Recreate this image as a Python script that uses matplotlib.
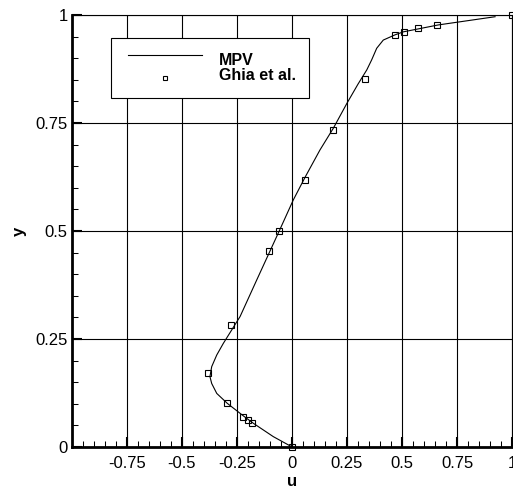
import matplotlib
matplotlib.use("Agg")
import matplotlib.pyplot as plt
from matplotlib.ticker import MultipleLocator, FixedLocator
from matplotlib.patches import Rectangle

plt.rcParams["font.family"] = ["Liberation Sans", "DejaVu Sans"]

# MPV centreline profile
mpv_u = [0.0, -0.01, -0.085, -0.176, -0.221, -0.294, -0.342, -0.365, -0.373,
         -0.365, -0.342, -0.312, -0.274, -0.236, -0.16, -0.059, 0.006, 0.06,
         0.127, 0.188, 0.249, 0.30, 0.34, 0.362, 0.385, 0.415, 0.468, 0.506,
         0.665, 0.923]
mpv_y = [0.0, 0.003, 0.024, 0.055, 0.072, 0.101, 0.124, 0.147, 0.163,
         0.186, 0.213, 0.240, 0.271, 0.302, 0.387, 0.499, 0.572, 0.625,
         0.6875, 0.738, 0.795, 0.840, 0.873, 0.896, 0.923, 0.942, 0.954, 0.961,
         0.977, 0.996]

# Ghia et al. reference points
ghia_y = [1.0, 0.9766, 0.9688, 0.9609, 0.9531, 0.8516, 0.7344, 0.6172, 0.5,
          0.4531, 0.2813, 0.1719, 0.1016, 0.0703, 0.0625, 0.0547, 0.0]
ghia_u = [1.0, 0.65928, 0.57492, 0.51117, 0.46604, 0.33304, 0.18719, 0.05702,
          -0.06080, -0.10648, -0.27805, -0.38289, -0.29730, -0.22220, -0.20196,
          -0.18109, 0.0]

x_ticks = [-0.75, -0.5, -0.25, 0, 0.25, 0.5, 0.75, 1]
x_labels = ["-0.75", "-0.5", "-0.25", "0", "0.25", "0.5", "0.75", "1"]
y_ticks = [0, 0.25, 0.5, 0.75, 1]
y_labels = ["0", "0.25", "0.5", "0.75", "1"]

fig = plt.figure(figsize=(5.13, 4.88), dpi=100)
ax = fig.add_axes([72 / 513, 41 / 488, 440 / 513, 432 / 488])

ax.plot(mpv_u, mpv_y, color="black", lw=0.8, zorder=3)
ax.plot(ghia_u, ghia_y, ls="none", marker="s", ms=5, mfc="none", mec="black",
        mew=0.8, clip_on=False, zorder=4)

ax.set_xlim(-1, 1)
ax.set_ylim(0, 1)
ax.xaxis.set_major_locator(FixedLocator(x_ticks))
ax.set_xticklabels(x_labels)
ax.yaxis.set_major_locator(FixedLocator(y_ticks))
ax.set_yticklabels(y_labels)
ax.xaxis.set_minor_locator(MultipleLocator(0.05))
ax.yaxis.set_minor_locator(MultipleLocator(0.05))

ax.tick_params(which="major", direction="in", length=7.2, width=1.5,
               labelsize=12, top=False, right=False)
ax.tick_params(which="minor", direction="in", length=4.3, width=0.75,
               top=False, right=False)
ax.tick_params(axis="x", which="major", pad=6.5)
ax.tick_params(axis="y", which="major", pad=3)

for v in x_ticks:
    ax.axvline(v, color="black", lw=0.8, zorder=1)
for v in y_ticks[1:]:
    ax.axhline(v, color="black", lw=0.8, zorder=1)

ax.spines["left"].set_linewidth(2)
ax.spines["bottom"].set_linewidth(2)
ax.spines["top"].set_linewidth(0.8)
ax.spines["right"].set_linewidth(0.8)

ax.set_xlabel("u", fontsize=12, fontweight="bold", labelpad=2)
ax.set_ylabel("y", fontsize=12, fontweight="bold", labelpad=6)

# legend box drawn in axes coordinates
ax.add_patch(Rectangle((0.0886, 0.808), 0.45, 0.139, transform=ax.transAxes,
                       facecolor="white", edgecolor="black", lw=0.8, zorder=5))
ax.plot([0.127, 0.2955], [0.907, 0.907], transform=ax.transAxes,
        color="black", lw=0.8, zorder=6)
ax.plot([0.211], [0.854], transform=ax.transAxes, ls="none", marker="s",
        ms=3.5, mfc="none", mec="black", mew=0.8, zorder=6)
ax.text(0.334, 0.884, "MPV", transform=ax.transAxes, fontsize=11.5,
        fontweight="bold", va="baseline", ha="left", zorder=6)
ax.text(0.334, 0.8495, "Ghia et al.", transform=ax.transAxes, fontsize=11.5,
        fontweight="bold", va="baseline", ha="left", zorder=6)

fig.savefig("out.png", dpi=100)
